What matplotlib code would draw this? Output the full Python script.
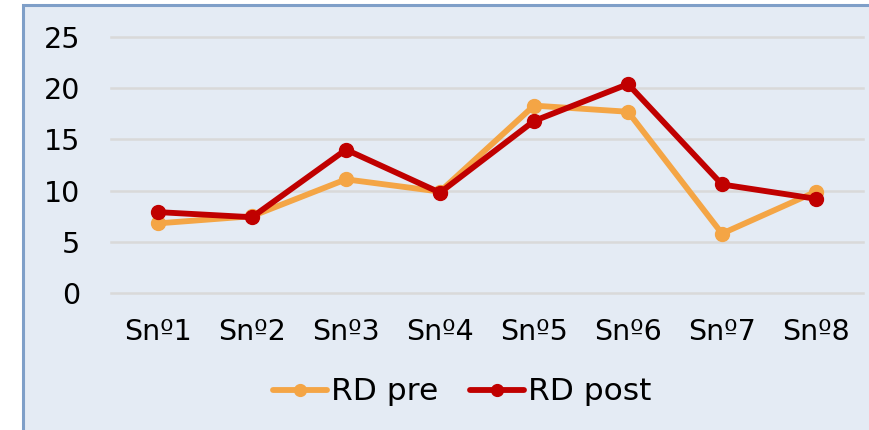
import matplotlib
matplotlib.use("Agg")
import matplotlib.pyplot as plt
import matplotlib.patches as patches

#____________________________________________________________________________________________________
# data
categories = ["Snº1", "Snº2", "Snº3", "Snº4", "Snº5", "Snº6", "Snº7", "Snº8"]
rd_pre = [6.8, 7.5, 11.1, 9.9, 18.3, 17.7, 5.8, 9.9]
rd_post = [7.9, 7.4, 14.0, 9.8, 16.8, 20.4, 10.6, 9.2]
y_ticks = [0, 5, 10, 15, 20, 25]

#____________________________________________________________________________________________________
# plot
W, H = 869, 430
fig = plt.figure(figsize=(W / 100, H / 100), dpi=100)
fig.patch.set_facecolor("white")

# chart area frame
frame = patches.Rectangle((23 / W, -0.05), 1.0, 1 - 5 / H + 0.05, transform=fig.transFigure,
                          facecolor="#E4EBF4", edgecolor="#7F9FC8", linewidth=2.2, zorder=-1)
fig.patches.append(frame)

ax = fig.add_axes([111 / W, 1 - 293 / H, 752 / W, 256 / H])
ax.set_facecolor("none")
ax.set_zorder(2)

x = list(range(len(categories)))
ax.plot(x, rd_pre, color="#F4A545", linewidth=4.2, marker="o", markersize=10,
        label="RD pre", clip_on=False, zorder=3, solid_capstyle="round")
ax.plot(x, rd_post, color="#C00000", linewidth=4.2, marker="o", markersize=10,
        label="RD post", clip_on=False, zorder=4, solid_capstyle="round")

ax.set_xlim(-0.5, len(categories) - 0.5)
ax.set_ylim(0, 25)
ax.set_yticks(y_ticks)
ax.set_xticks(x)
ax.set_xticklabels(categories)
ax.grid(axis="y", color="#D9D9D9", linewidth=1.8)
for gl in ax.get_ygridlines():
    gl.set_clip_on(False)
ax.set_axisbelow(True)
for s in ax.spines.values():
    s.set_visible(False)
ax.tick_params(axis="both", length=0, labelsize=20.5, colors="black")
ax.tick_params(axis="y", pad=22)
ax.tick_params(axis="x", pad=18)

fig.legend(loc="center", bbox_to_anchor=(462 / W, 1 - 392 / H), ncol=2, frameon=False,
           fontsize=22.5, handlelength=1.75, handletextpad=0.12, columnspacing=1.0,
           markerscale=0.85)

fig.savefig("out.png", dpi=100)
